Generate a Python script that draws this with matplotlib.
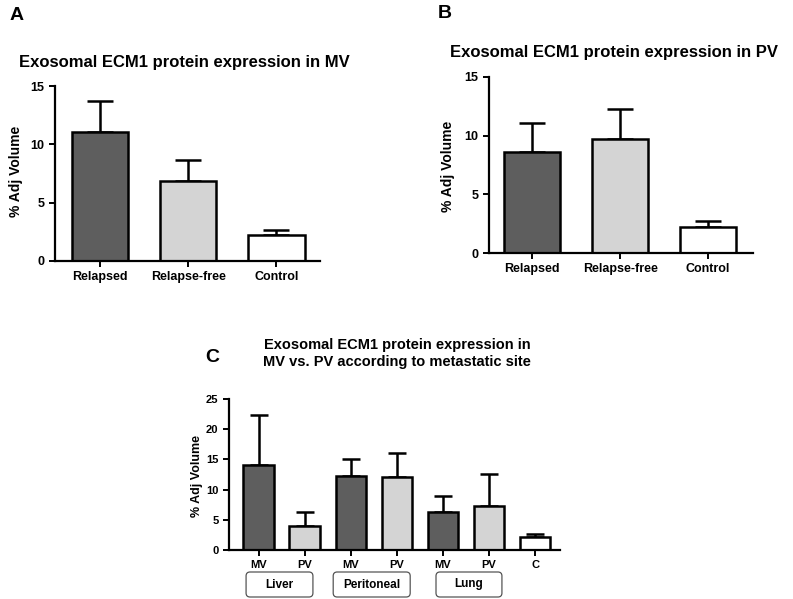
import matplotlib.pyplot as plt
from matplotlib.patches import FancyBboxPatch

plt.rcParams['font.family'] = ['Liberation Sans', 'DejaVu Sans']
plt.rcParams['font.weight'] = 'bold'

# data
groups_ab = ['Relapsed', 'Relapse-free', 'Control']
mv_means = [11.1, 6.9, 2.2]
mv_err = [2.6, 1.8, 0.5]
pv_means = [8.6, 9.7, 2.2]
pv_err = [2.5, 2.6, 0.5]

labels_c = ['MV', 'PV', 'MV', 'PV', 'MV', 'PV', 'C']
site_means = [14.0, 4.0, 12.2, 12.1, 6.3, 7.3, 2.2]
site_err = [8.3, 2.3, 2.8, 4.0, 2.6, 5.2, 0.5]
sites = ['Liver', 'Peritoneal', 'Lung']

DARK = '#5e5e5e'
LIGHT = '#d4d4d4'
colors_ab = [DARK, LIGHT, 'white']
colors_c = [DARK, LIGHT, DARK, LIGHT, DARK, LIGHT, 'white']

W, H = 793, 599
fig = plt.figure(figsize=(W / 100, H / 100), dpi=100)


def style_axes(ax, tick_size):
    for s in ['top', 'right']:
        ax.spines[s].set_visible(False)
    for s in ['left', 'bottom']:
        ax.spines[s].set_linewidth(1.6)
    ax.tick_params(width=1.4, length=4, labelsize=tick_size)
    for lab in ax.get_xticklabels() + ax.get_yticklabels():
        lab.set_fontweight('bold')


def bar_panel(ax, names, means, errs, colors, width, capsize, tick_size, ylab_size):
    x = list(range(len(names)))
    ax.bar(x, means, width=width, color=colors, edgecolor='black', linewidth=1.8, zorder=2)
    ax.errorbar(x, means, yerr=[[0] * len(errs), errs], fmt='none', ecolor='black',
                elinewidth=1.8, capsize=capsize, capthick=1.8, zorder=1)
    ax.set_xticks(x)
    ax.set_xticklabels(names)
    ax.set_ylabel('% Adj Volume', fontsize=ylab_size, fontweight='bold')
    style_axes(ax, tick_size)


# panel A
axA = fig.add_axes([0.0694, 0.5643, 0.334, 0.292])
bar_panel(axA, groups_ab, mv_means, mv_err, colors_ab, 0.64, 9.5, 9, 10)
axA.set_ylim(0, 15)
axA.set_yticks([0, 5, 10, 15])
axA.set_xlim(-0.511, 2.494)
axA.yaxis.set_label_coords(-0.121, 0.51)
fig.text(184.5 / W, 1 - 62 / H, 'Exosomal ECM1 protein expression in MV',
         ha='center', va='center', fontsize=12, fontweight='bold')
fig.text(17 / W, 1 - 15 / H, 'A', ha='center', va='center', fontsize=14, fontweight='bold')

# panel B
axB = fig.add_axes([0.6166, 0.5776, 0.333, 0.294])
bar_panel(axB, groups_ab, pv_means, pv_err, colors_ab, 0.64, 9.5, 9, 10)
axB.set_ylim(0, 15)
axB.set_yticks([0, 5, 10, 15])
axB.set_xlim(-0.494, 2.511)
axB.yaxis.set_label_coords(-0.129, 0.494)
fig.text(614.5 / W, 1 - 52 / H, 'Exosomal ECM1 protein expression in PV',
         ha='center', va='center', fontsize=12, fontweight='bold')
fig.text(445 / W, 1 - 13 / H, 'B', ha='center', va='center', fontsize=14, fontweight='bold')

# panel C
axC = fig.add_axes([0.2888, 0.0818, 0.4174, 0.2521])
bar_panel(axC, labels_c, site_means, site_err, colors_c, 0.66, 6.5, 8, 9)
axC.set_ylim(0, 25)
axC.set_yticks([0, 5, 10, 15, 20, 25])
axC.set_xlim(-0.64, 6.54)
axC.yaxis.set_label_coords(-0.079, 0.49)
fig.text(397 / W, 1 - 353.5 / H,
         'Exosomal ECM1 protein expression in\nMV vs. PV according to metastatic site',
         ha='center', va='center', fontsize=10.5, fontweight='bold', linespacing=1.2)
fig.text(212 / W, 1 - 357 / H, 'C', ha='center', va='center', fontsize=14, fontweight='bold')

# site boxes below the axis (spans in bar-index units, converted to figure coords)
box_spans = [(-0.27, 1.18), (1.62, 3.29), (3.85, 5.28)]
to_fig = axC.transData + fig.transFigure.inverted()
box_top, box_bot = 1 - 572 / H, 1 - 597 / H
for name, (x0, x1) in zip(sites, box_spans):
    fx0 = to_fig.transform((x0, 0))[0]
    fx1 = to_fig.transform((x1, 0))[0]
    box = FancyBboxPatch((fx0, box_bot), fx1 - fx0, box_top - box_bot,
                         boxstyle='round,pad=0,rounding_size=0.005',
                         mutation_aspect=W / H, transform=fig.transFigure,
                         facecolor='white', edgecolor='#555555', linewidth=0.9)
    fig.patches.append(box)
    fig.text((fx0 + fx1) / 2, (box_top + box_bot) / 2, name, ha='center', va='center',
             fontsize=8.5, fontweight='bold')

fig.savefig('out.png', dpi=100)
